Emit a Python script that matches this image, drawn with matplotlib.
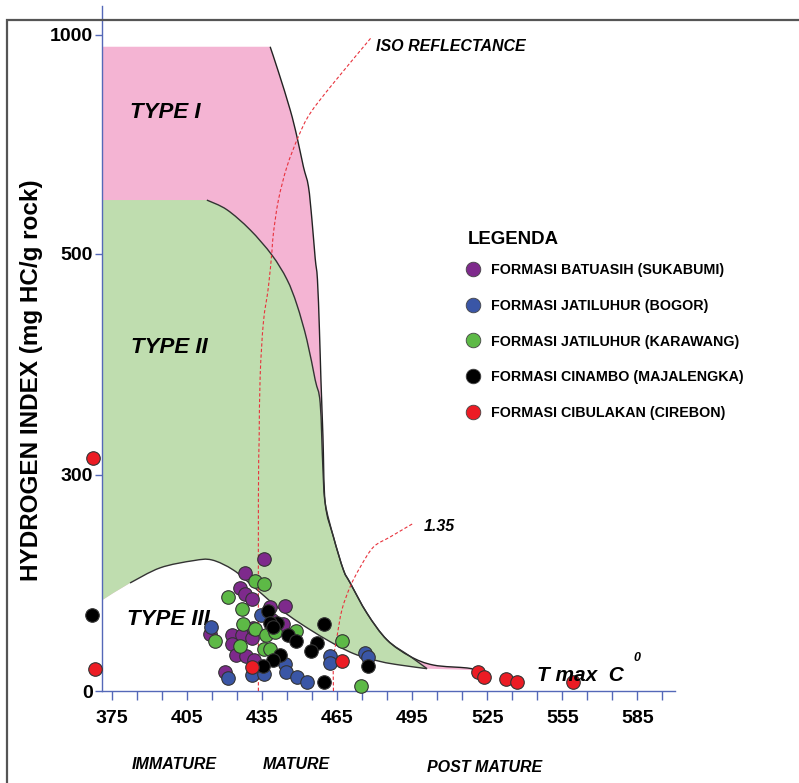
import numpy as np
import matplotlib
matplotlib.use("Agg")
import matplotlib.pyplot as plt
from matplotlib.lines import Line2D
from matplotlib.patches import PathPatch, Rectangle
from matplotlib.path import Path

plt.rcParams['font.family'] = ['Liberation Sans', 'DejaVu Sans']

# sample points: Tmax (C) and hydrogen index
batuasih_t = [435.8, 428.2, 426.2, 428.2, 430.9, 438.2, 444.3, 443.5, 422.9, 426.9,
              430.9, 431.5, 414.2, 422.9, 424.6, 428.6, 431.9, 420.3, 438.9]
batuasih_hi = [183, 164, 143, 135, 128, 117, 118, 93, 78, 78,
               74, 88, 79, 65, 50, 49, 43, 26, 99]

bogor_t = [414.6, 434.5, 421.2, 430.9, 435.9, 444.2, 444.5, 448.9, 452.8, 462.2, 462.2, 476.2, 477.5]
bogor_hi = [89, 106, 18, 22, 23, 38, 27, 20, 12, 49, 39, 53, 47]

karawang_t = [432.2, 435.8, 421.5, 426.9, 427.5, 432.2, 416.3, 426.2, 436.6, 440.2,
              448.7, 435.8, 438.2, 466.9, 474.5]
karawang_hi = [153, 148, 131, 114, 93, 86, 70, 63, 78, 82, 84, 58, 58, 69, 7]

cinambo_t = [367.1, 459.9, 437.4, 440.9, 438.2, 439.5, 445.4, 448.6, 456.9, 454.5,
             442.2, 439.4, 435.5, 459.8, 477.4]
cinambo_hi = [105, 93, 111, 95, 94, 89, 78, 70, 67, 55, 50, 43, 35, 12, 35]

cibulakan_t = [367.4, 368.2, 431.1, 467.1, 521.1, 523.8, 532.3, 536.7, 559.1]
cibulakan_hi = [315, 31, 33, 42, 27, 19, 17, 12, 12]

# kerogen type boundaries
type1_t = [438.2, 441.5, 446.2, 448.9, 451.5, 453.5, 454.9, 456.2, 457.1, 457.9, 458.5,
           459.3, 460.2, 463.5, 467.5, 470.2, 476.9, 484.9, 494.2, 503.5, 516.9, 520.2]
type1_hi = [973, 916, 829, 768, 699, 654, 578, 496, 477, 431, 386,
            335, 261, 214, 168, 150, 108, 71, 48, 36, 32, 29]
type1_top = 973

type2_t = [412.9, 420.9, 430.2, 438.9, 444.9, 448.9, 452.9, 456.2, 458.2, 459.3,
           460.2, 463.5, 467.5, 470.2, 476.9, 484.9, 494.2, 500.9]
type2_hi = [623, 601, 555, 499, 477, 454, 422, 386, 365, 305,
            261, 214, 168, 150, 108, 71, 48, 31]

type3_t = [371, 382.2, 394.2, 407.5, 414.9, 423.5, 431.5, 440.9, 450.2, 460.9, 471.5, 482.2, 490.2, 500.9]
type3_hi = [126, 150, 171, 181, 182, 168, 145, 117, 94, 71, 52, 41, 36, 31]

# iso reflectance lines
iso1_t = [433.5, 433.5, 433.8, 434.2, 435.5, 437.5, 438.9, 439.5, 441.5, 444.9, 449.5, 454.2, 463.5, 478.9]
iso1_hi = [0, 265, 332, 389, 438, 470, 505, 547, 623, 699, 768, 821, 890, 996]
iso2_t = [463.5, 463.5, 464.9, 466.9, 470.2, 474.2, 479.5, 486.2, 495.5]
iso2_hi = [0, 43, 75, 113, 145, 172, 200, 214, 233]

x_ticks = [375, 405, 435, 465, 495, 525, 555, 585]
y_ticks = [0, 300, 500, 1000]
t_min, t_max = 371, 600
hi_top = 1066

series = [
    ("FORMASI BATUASIH (SUKABUMI)", batuasih_t, batuasih_hi, "#7E2A8C"),
    ("FORMASI JATILUHUR (BOGOR)", bogor_t, bogor_hi, "#3A56A6"),
    ("FORMASI JATILUHUR (KARAWANG)", karawang_t, karawang_hi, "#5DB946"),
    ("FORMASI CINAMBO (MAJALENGKA)", cinambo_t, cinambo_hi, "#000000"),
    ("FORMASI CIBULAKAN (CIREBON)", cibulakan_t, cibulakan_hi, "#EC1C24"),
]

# broken (piecewise) hydrogen index axis
hi_breaks = [0, 300, 500, 1000, 2000]
hi_pos = [0, 216, 437, 656, 1094]


def fwd(v):
    return np.interp(v, hi_breaks, hi_pos)


def inv(v):
    return np.interp(v, hi_pos, hi_breaks)


def smooth(ts, his):
    # catmull-rom through the points, as bezier segments (no MOVETO)
    p = np.column_stack([ts, fwd(np.asarray(his, float))])
    ext = np.vstack([p[0], p, p[-1]])
    verts = []
    for i in range(1, len(ext) - 2):
        c1 = ext[i] + (ext[i + 1] - ext[i - 1]) / 6
        c2 = ext[i + 1] - (ext[i + 2] - ext[i]) / 6
        verts += [c1, c2, ext[i + 1]]
    verts = np.array(verts)
    verts[:, 1] = inv(verts[:, 1])
    return list(map(tuple, verts)), [Path.CURVE4] * len(verts)


def curve_path(ts, his):
    v, c = smooth(ts, his)
    return Path([(ts[0], his[0])] + v, [Path.MOVETO] + c)


fig = plt.figure(figsize=(7.99, 7.83), dpi=100)
ax = fig.add_axes([102 / 799, 92 / 783, 573 / 799, 685 / 783])
ax.set_yscale('function', functions=(fwd, inv))
ax.set_xlim(t_min, t_max)
ax.set_ylim(0, hi_top)

fig.add_artist(Rectangle((7 / 799, -0.5), 2, 1.5 - 20 / 783, transform=fig.transFigure,
                         fill=False, edgecolor='#555555', lw=1.6))

# type I area (pink)
v1, c1 = smooth(type1_t, type1_hi)
v3r, c3r = smooth(type3_t[::-1], type3_hi[::-1])
verts = [(t_min, type1_top), (type1_t[0], type1_hi[0])] + v1 + [(type3_t[-1], type3_hi[-1])] + v3r + [(0, 0)]
codes = [Path.MOVETO, Path.LINETO] + c1 + [Path.LINETO] + c3r + [Path.CLOSEPOLY]
ax.add_patch(PathPatch(Path(verts, codes), facecolor='#F4B4D3', edgecolor='none', zorder=1))

# type II area (green)
v2, c2 = smooth(type2_t, type2_hi)
verts = [(t_min, type2_hi[0]), (type2_t[0], type2_hi[0])] + v2 + v3r + [(0, 0)]
codes = [Path.MOVETO, Path.LINETO] + c2 + c3r + [Path.CLOSEPOLY]
ax.add_patch(PathPatch(Path(verts, codes), facecolor='#BFDDAF', edgecolor='none', zorder=2))

ax.add_patch(PathPatch(curve_path(type1_t, type1_hi), fill=False, edgecolor='#222222', lw=1.0, zorder=3))
ax.add_patch(PathPatch(curve_path(type2_t, type2_hi), fill=False, edgecolor='#333333', lw=1.0, zorder=3))
ax.add_patch(PathPatch(curve_path(type3_t[1:], type3_hi[1:]), fill=False, edgecolor='#333333', lw=1.0, zorder=3))

for ts, his in [(iso1_t, iso1_hi), (iso2_t, iso2_hi)]:
    ax.add_patch(PathPatch(curve_path(ts, his), fill=False, edgecolor='#E8323C', lw=0.8,
                           linestyle=(0, (3, 2)), zorder=4, clip_on=False))

handles = []
for label, t, hi, col in series:
    ax.scatter(t, hi, s=95, color=col, edgecolor='#333333', linewidth=0.8, zorder=5, clip_on=False)
    handles.append(Line2D([], [], linestyle='none', marker='o', markersize=10.5,
                          markerfacecolor=col, markeredgecolor='#444444', markeredgewidth=0.6))

ax.legend(handles, [s[0] for s in series], loc='upper left',
          bbox_to_anchor=(458 / 799, 1 - 253 / 783), bbox_transform=fig.transFigure,
          frameon=False, prop={'weight': 'bold', 'size': 10.3},
          handlelength=0.7, handletextpad=0.88, labelspacing=1.52, borderpad=0.2)
fig.text(468 / 799, 1 - 240 / 783, 'LEGENDA', fontsize=13.4, fontweight='bold', va='center')

# axis styling
blue = '#5468B8'
for side in ['top', 'right']:
    ax.spines[side].set_visible(False)
for side in ['left', 'bottom']:
    ax.spines[side].set_color(blue)
    ax.spines[side].set_linewidth(1.0)
ax.set_facecolor('none')

ax.set_xticks(x_ticks)
ax.set_xticks([t for t in range(385, 600, 10) if t not in x_ticks], minor=True)
ax.set_yticks(y_ticks)
ax.set_yticks([], minor=True)
ax.tick_params(axis='x', which='both', direction='out', length=6.5, width=1.0, color=blue,
               labelsize=14, pad=7)
ax.tick_params(axis='y', which='both', direction='out', length=5, width=1.0, color=blue,
               labelsize=14, pad=1.5)
for lab in ax.get_xticklabels() + ax.get_yticklabels():
    lab.set_fontweight('bold')

fig.text(32 / 799, 1 - 380 / 783, 'HYDROGEN INDEX (mg HC/g rock)', rotation=90,
         ha='center', va='center', fontsize=17.5, fontweight='bold')

ax.text(382.2, 822, 'TYPE I', fontsize=16, fontweight='bold', style='italic', va='center')
ax.text(382.6, 415, 'TYPE II', fontsize=16, fontweight='bold', style='italic', va='center')
ax.text(381, 99, 'TYPE III', fontsize=16, fontweight='bold', style='italic', va='center', zorder=4)
ax.text(480.6, 973, 'ISO REFLECTANCE', fontsize=11.5, fontweight='bold', style='italic', va='center')
ax.text(499.4, 228, '1.35', fontsize=11.5, fontweight='bold', style='italic', va='center')
ax.text(545, 22, 'T max  C', fontsize=15, fontweight='bold', style='italic', va='center', zorder=6)
ax.text(583.4, 46, '0', fontsize=9, fontweight='bold', style='italic', va='center')

xform = ax.get_xaxis_transform()
ax.text(383, -0.108, 'IMMATURE', transform=xform, fontsize=11.5, fontweight='bold',
        style='italic', va='center')
ax.text(435.4, -0.108, 'MATURE', transform=xform, fontsize=11.5, fontweight='bold',
        style='italic', va='center')
ax.text(501, -0.111, 'POST MATURE', transform=xform, fontsize=11.5, fontweight='bold',
        style='italic', va='center')

fig.savefig('out.png', dpi=100)
